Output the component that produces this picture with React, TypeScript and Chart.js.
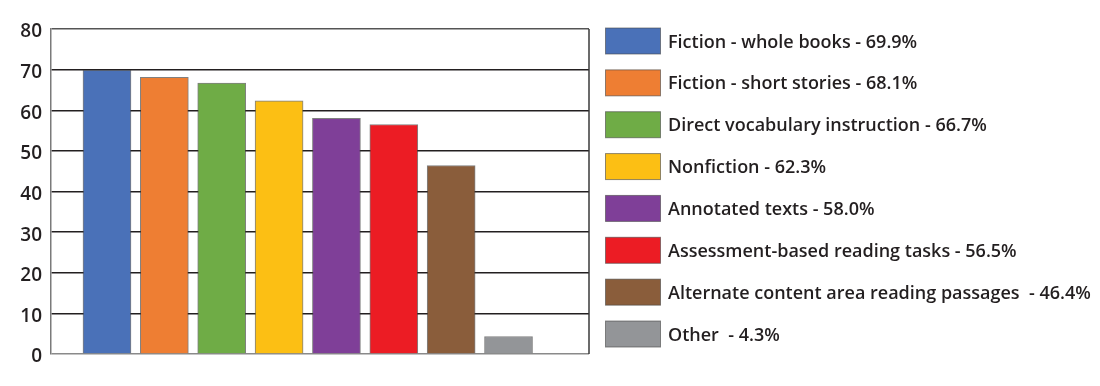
import React, { useEffect, useRef } from "react";
import { Chart, registerables } from "chart.js";

Chart.register(...registerables);

const categories = [
  "Fiction - whole books",
  "Fiction - short stories",
  "Direct vocabulary instruction",
  "Nonfiction",
  "Annotated texts",
  "Assessment-based reading tasks",
  "Alternate content area reading passages",
  "Other",
];
const values = [69.9, 68.1, 66.7, 62.3, 58.0, 56.5, 46.4, 4.3];
const legendLabels = [
  "Fiction - whole books - 69.9%",
  "Fiction - short stories - 68.1%",
  "Direct vocabulary instruction - 66.7%",
  "Nonfiction - 62.3%",
  "Annotated texts - 58.0%",
  "Assessment-based reading tasks - 56.5%",
  "Alternate content area reading passages  - 46.4%",
  "Other  - 4.3%",
];
const colors = [
  "#4a71b8",
  "#ee7e33",
  "#6fac46",
  "#fcbf14",
  "#7f3f98",
  "#ec1c24",
  "#8a5d3b",
  "#939598",
];
const yTicks = [0, 10, 20, 30, 40, 50, 60, 70, 80];

const FONT = "'Open Sans', 'Noto Sans', sans-serif";
const TEXT = "#231f20";

const legendPlugin = {
  id: "customLegend",
  afterDraw(chart: any) {
    const ctx = chart.ctx;
    const ds = chart.data.datasets[0];
    ctx.save();
    const a = chart.chartArea;
    ctx.strokeStyle = "#3a3a3a";
    ctx.lineWidth = 1.5;
    ctx.beginPath();
    ctx.moveTo(a.right, a.top);
    ctx.lineTo(a.right, a.bottom);
    ctx.stroke();

    const bx = 605.5;
    const bw = 55;
    const bh = 26;
    const y0 = 41;
    const pitch = 41.86;
    ctx.font = `600 18px ${FONT}`;
    ctx.textBaseline = "middle";
    ctx.textAlign = "left";
    legendLabels.forEach((lab, i) => {
      const cy = y0 + pitch * i;
      ctx.fillStyle = ds.backgroundColor[i];
      ctx.fillRect(bx, cy - bh / 2, bw, bh);
      ctx.strokeStyle = "rgba(70,70,70,0.6)";
      ctx.lineWidth = 1;
      ctx.strokeRect(bx, cy - bh / 2, bw, bh);
      ctx.fillStyle = TEXT;
      ctx.fillText(lab, 668, cy + 1.5);
    });
    ctx.restore();
  },
};

export default function App() {
  const ref = useRef<HTMLCanvasElement | null>(null);
  useEffect(() => {
    if (!ref.current) return;
    const chart = new Chart(ref.current, {
      type: "bar",
      data: {
        labels: categories,
        datasets: [
          {
            label: "Percent",
            data: values.map((v, i) => ({ x: i, y: v })) as any,
            backgroundColor: colors,
            borderColor: "rgba(60,60,60,0.65)",
            borderWidth: 1,
            barThickness: 48,
          },
        ],
      },
      options: {
        animation: false,
        responsive: true,
        maintainAspectRatio: false,
        layout: { padding: { left: 0, right: 511, top: 29, bottom: 32 } },
        plugins: { legend: { display: false }, tooltip: { enabled: false } },
        scales: {
          x: {
            type: "linear",
            offset: false,
            min: -0.976,
            max: 8.403,
            display: true,
            ticks: { display: false },
            grid: { display: false, drawTicks: false },
            border: { display: false },
          },
          y: {
            min: 0,
            max: 80,
            afterBuildTicks(scale: any) {
              scale.ticks = yTicks.map((v) => ({ value: v }));
            },
            afterFit(scale: any) {
              scale.width = 51;
            },
            ticks: {
              padding: 9,
              labelOffset: 3,
              color: TEXT,
              font: { family: FONT, size: 19, weight: "600" as any },
            },
            grid: {
              drawTicks: false,
              lineWidth: 1.5,
              color: (c: any) =>
                c.tick && c.tick.value === 0
                  ? "#8a8a8a"
                  : c.tick && c.tick.value === 80
                  ? "#555555"
                  : "#231f20",
            },
            border: { display: true, color: "#7a7a7a", width: 1.5 },
          },
        },
      },
      plugins: [legendPlugin],
    });
    return () => chart.destroy();
  }, []);
  return (
    <div style={{ position: "fixed", left: 0, top: 0, width: 1100, height: 386, background: "#fff" }}>
      <canvas ref={ref} />
    </div>
  );
}
